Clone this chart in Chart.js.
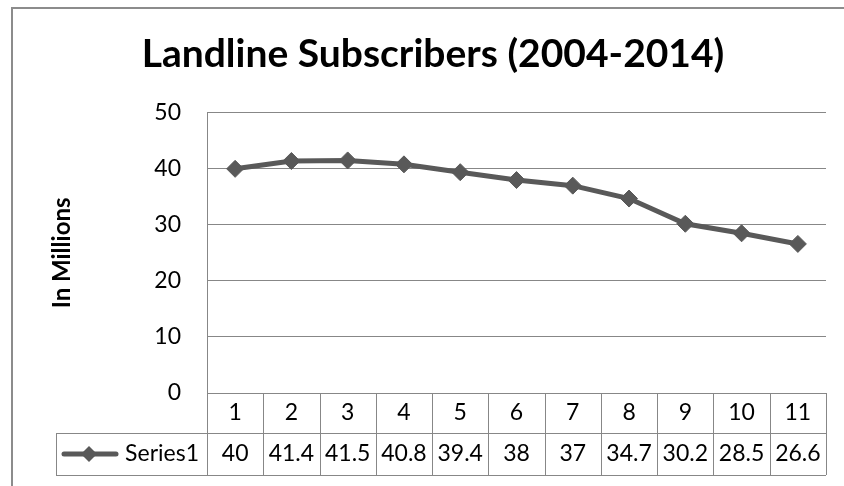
<!DOCTYPE html>
<html lang="en">
<head>
  <meta charset="UTF-8" />
  <title>Landline Subscribers (2004-2014)</title>
  <script src="https://cdn.jsdelivr.net/npm/chart.js"></script>
  <style>
    body {
      margin: 0;
      background: #fff;
    }

    .chart-box {
      width: 844px;
      height: 486px;
    }
  </style>
</head>
<body>
  <div class="chart-box"><canvas id="landlineChart"></canvas></div>

  <script>
    const years = ['1', '2', '3', '4', '5', '6', '7', '8', '9', '10', '11'];
    const subscribers = [40, 41.4, 41.5, 40.8, 39.4, 38, 37, 34.7, 30.2, 28.5, 26.6];
    const seriesName = 'Series1';

    const lineColor = '#595959';
    const gridColor = '#878787';
    const fontFamily = 'Lato, "Open Sans", sans-serif';
    const labelSize = 23;

    // outer frame of the chart object (runs off the right and bottom edges)
    const framePlugin = {
      id: 'frame',
      beforeDraw(chart) {
        const ctx = chart.ctx;
        ctx.save();
        ctx.strokeStyle = '#8c8c8c';
        ctx.lineWidth = 2;
        ctx.strokeRect(12, 8, 1000, 1000);
        ctx.restore();
      }
    };

    // data table under the plot: header row comes from x ticks, value row drawn here
    const tablePlugin = {
      id: 'dataTable',
      afterDraw(chart) {
        const ctx = chart.ctx;
        const x = chart.scales.x;
        const area = chart.chartArea;
        const rowTop = area.bottom + 40;
        const rowBottom = rowTop + 42;
        const half = (x.getPixelForValue(1) - x.getPixelForValue(0)) / 2;
        const legendLeft = 56;

        ctx.save();
        ctx.strokeStyle = gridColor;
        ctx.lineWidth = 1;
        ctx.beginPath();
        // horizontal lines
        ctx.moveTo(legendLeft, rowTop + 0.5);
        ctx.lineTo(area.right, rowTop + 0.5);
        ctx.moveTo(legendLeft, rowBottom + 0.5);
        ctx.lineTo(area.right, rowBottom + 0.5);
        // legend cell left edge
        ctx.moveTo(legendLeft + 0.5, rowTop);
        ctx.lineTo(legendLeft + 0.5, rowBottom);
        // column edges
        for (let i = 0; i <= years.length; i++) {
          const px = Math.round(x.getPixelForValue(i) - half) + 0.5;
          ctx.moveTo(px, area.bottom);
          ctx.lineTo(px, rowBottom);
        }
        ctx.stroke();

        // values
        const midY = (rowTop + rowBottom) / 2;
        ctx.fillStyle = '#000';
        ctx.font = labelSize + 'px ' + fontFamily;
        ctx.textAlign = 'center';
        ctx.textBaseline = 'middle';
        subscribers.forEach((v, i) => {
          ctx.fillText(String(v), x.getPixelForValue(i), midY);
        });

        // legend key
        ctx.textAlign = 'right';
        ctx.fillText(seriesName, area.left - 8, midY);
        ctx.strokeStyle = lineColor;
        ctx.lineWidth = 5;
        ctx.lineCap = 'round';
        ctx.beginPath();
        ctx.moveTo(64, midY);
        ctx.lineTo(116, midY);
        ctx.stroke();
        ctx.fillStyle = lineColor;
        ctx.beginPath();
        ctx.moveTo(89, midY - 8);
        ctx.lineTo(97, midY);
        ctx.lineTo(89, midY + 8);
        ctx.lineTo(81, midY);
        ctx.closePath();
        ctx.fill();
        ctx.restore();
      }
    };

    new Chart(document.getElementById('landlineChart'), {
      type: 'line',
      data: {
        labels: years,
        datasets: [{
          label: seriesName,
          data: subscribers,
          borderColor: lineColor,
          backgroundColor: lineColor,
          borderWidth: 5,
          pointStyle: 'rectRot',
          pointRadius: 8.5,
          pointBorderWidth: 1,
          pointBackgroundColor: lineColor,
          pointBorderColor: lineColor,
          tension: 0
        }]
      },
      options: {
        responsive: true,
        maintainAspectRatio: false,
        animation: false,
        layout: { padding: { left: 40, right: 18, top: 0, bottom: 11 } },
        plugins: {
          legend: { display: false },
          tooltip: { enabled: false },
          title: {
            display: true,
            text: 'Landline Subscribers (2004-2014)',
            color: '#000',
            font: { family: fontFamily, size: 39, weight: 'bold' },
            padding: { top: 31, bottom: 35 }
          }
        },
        scales: {
          x: {
            offset: true,
            grid: { display: false, drawTicks: false },
            border: { display: false },
            ticks: {
              color: '#000',
              padding: 6,
              font: { family: fontFamily, size: labelSize }
            },
            afterFit(scale) { scale.height = 82; }
          },
          y: {
            min: 0,
            max: 50,
            grid: { color: gridColor, drawTicks: false },
            border: { color: gridColor },
            ticks: {
              stepSize: 10,
              color: '#000',
              padding: 26,
              font: { family: fontFamily, size: labelSize }
            },
            title: {
              display: true,
              text: 'In Millions',
              color: '#000',
              font: { family: fontFamily, size: 24, weight: 'bold' },
              padding: { top: 8, bottom: 0 }
            },
            afterFit(scale) { scale.width = 167; }
          }
        }
      },
      plugins: [framePlugin, tablePlugin]
    });
  </script>
</body>
</html>
